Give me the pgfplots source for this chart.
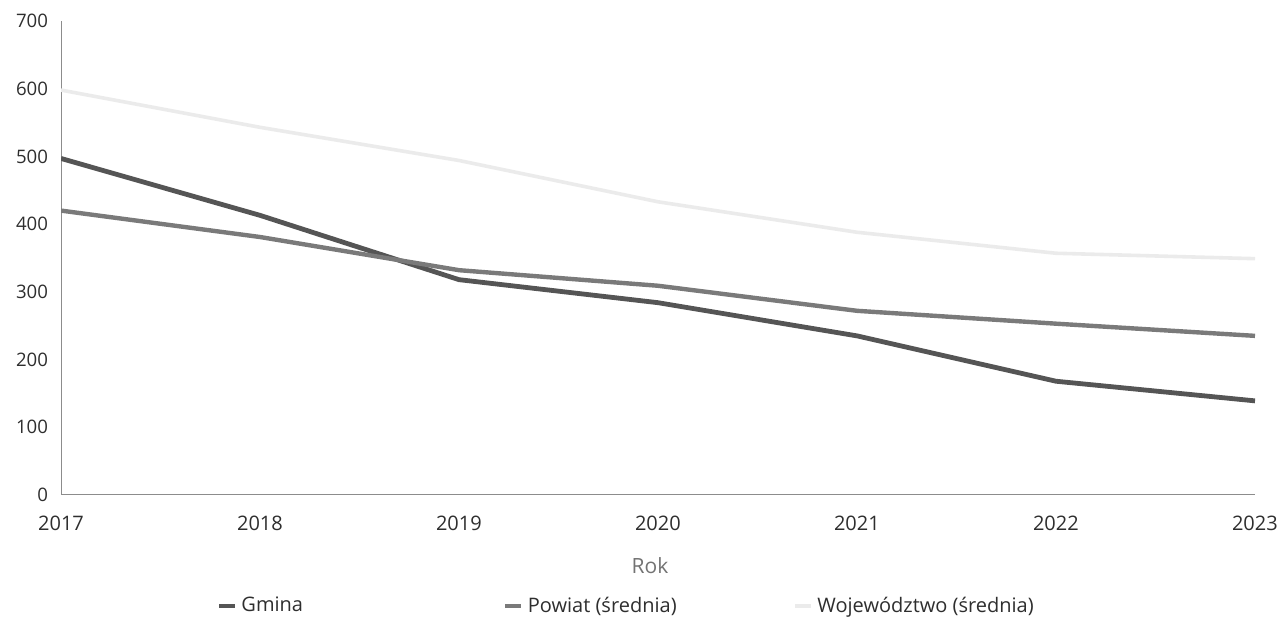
\documentclass[border=0pt]{standalone}
\usepackage{pgfplots}
\pgfplotsset{compat=1.18}
\usepackage{fontspec}
\setmainfont{Open Sans}
\definecolor{gmina}{HTML}{555555}
\definecolor{powiat}{HTML}{7A7A7A}
\definecolor{woj}{HTML}{EBEBEB}
\definecolor{txt}{HTML}{2E2E2E}
\begin{document}
\begin{tikzpicture}[x=0.5pt,y=0.5pt]
\useasboundingbox (0,0) rectangle (1288,624);
\begin{axis}[
  at={(61pt*0.5,129pt*0.5)}, anchor=south west,
  scale only axis,
  width=597pt, height=237pt,
  xmin=2017, xmax=2023, ymin=0, ymax=700,
  xtick={2017,...,2023}, ytick={0,100,...,700},
  xticklabel style={/pgf/number format/1000 sep={}},
  /pgf/number format/assume math mode=true,
  tick style={draw=none},
  axis x line*=bottom, axis y line*=left,
  axis line style={draw=black!45, line width=0.5pt, -},
  yticklabel style={font=\fontsize{9.3}{11}\selectfont, text=txt, xshift=-3pt},
  xticklabel style={font=\fontsize{10}{12}\selectfont, text=txt, yshift=-7pt},
  xlabel={Rok},
  xlabel style={font=\fontsize{10.5}{12}\selectfont, text=black!55, yshift=-6.5pt, xshift=-4pt},
  legend columns=3,
  legend style={draw=none, fill=none, at={(0.125,-0.234)}, anchor=west,
    font=\fontsize{10}{12}\selectfont, text=txt,
    /tikz/column 2/.style={column sep=98pt},
    /tikz/column 4/.style={column sep=56pt}},
  legend image code/.code={\draw[#1, line width=2.4pt] (0pt,0pt) -- (8pt,0pt);},
]
\addplot[gmina, line width=2.4pt] coordinates {(2017,497) (2018,413) (2019,318) (2020,284) (2021,235) (2022,168) (2023,139)};
\addlegendentry{Gmina}
\addplot[powiat, line width=2.2pt] coordinates {(2017,420) (2018,381) (2019,332) (2020,309) (2021,272) (2022,253) (2023,235)};
\addlegendentry{Powiat (średnia)}
\addplot[woj, line width=1.8pt] coordinates {(2017,598) (2018,543) (2019,494) (2020,433) (2021,388) (2022,357) (2023,349)};
\addlegendentry{Województwo (średnia)}
\end{axis}
\end{tikzpicture}
\end{document}
